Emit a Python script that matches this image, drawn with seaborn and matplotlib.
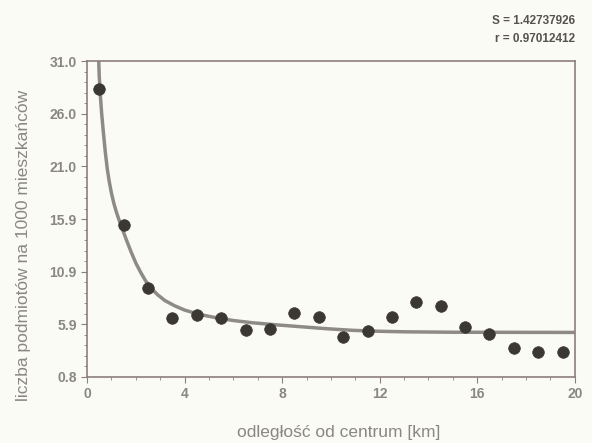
import numpy as np
import pandas as pd
import matplotlib
matplotlib.use('Agg')
import matplotlib.pyplot as plt
import seaborn as sns

# measured points (distance from centre [km], entities per 1000 inhabitants)
distance = [0.5, 1.5, 2.5, 3.5, 4.5, 5.5, 6.5, 7.5, 8.5, 9.5,
            10.5, 11.5, 12.5, 13.5, 14.5, 15.5, 16.5, 17.5, 18.5, 19.5]
entities = [28.3, 15.3, 9.3, 6.4, 6.7, 6.4, 5.3, 5.4, 6.9, 6.5,
            4.6, 5.2, 6.5, 8.0, 7.6, 5.6, 4.9, 3.6, 3.2, 3.2]

# fitted curve
curve_x = [0.48, 0.5, 0.55, 0.6, 0.67, 0.75, 0.83, 0.91, 1.0, 1.1, 1.2, 1.3,
           1.44, 1.6, 1.8, 2.0, 2.2, 2.4, 2.6, 2.9, 3.2, 3.6, 4.0, 4.5, 5.0,
           5.5, 6.0, 6.8, 7.8, 8.8, 9.8, 10.9, 12.0, 13.0, 15.0, 17.5, 20.0]
curve_y = [31.0, 29.6, 27.6, 26.0, 24.2, 22.3, 20.7, 19.5, 18.4, 17.4, 16.6, 15.9,
           15.0, 14.0, 12.8, 11.7, 10.8, 10.0, 9.35, 8.65, 8.1, 7.6, 7.2, 6.85, 6.6,
           6.38, 6.2, 5.98, 5.78, 5.6, 5.42, 5.26, 5.17, 5.12, 5.08, 5.07, 5.06]

x_ticks = [0, 4, 8, 12, 16, 20]
y_tick_labels = ['0.8', '5.9', '10.9', '15.9', '21.0', '26.0', '31.0']

fit_stats = ['S = 1.42737926', 'r = 0.97012412']

sns.set_style('ticks')
plt.rcParams['font.family'] = ['Liberation Sans', 'DejaVu Sans']

bg = '#fbfbf6'
frame = '#8c7f7d'
text_col = '#8a8684'

pts = pd.DataFrame({'x': distance, 'y': entities})
fit = pd.DataFrame({'x': curve_x, 'y': curve_y})

fig = plt.figure(figsize=(5.92, 4.43), dpi=100, facecolor=bg)
ax = fig.add_axes([0.147, 0.149, 0.824, 0.713], facecolor=bg)

sns.lineplot(data=fit, x='x', y='y', ax=ax, color='#8e8a88', linewidth=2.5,
             sort=True, estimator=None)
sns.scatterplot(data=pts, x='x', y='y', ax=ax, color='#3b3733', s=70,
                edgecolor='#3b3733', linewidth=0.5, zorder=3)

ax.set_xlim(0, 20)
ax.set_ylim(0.8, 31.0)
ax.set_xticks(x_ticks)
ax.set_xticks(np.arange(0, 21, 1), minor=True)
y_pos = [float(v) for v in y_tick_labels]
y_pos = np.linspace(y_pos[0], y_pos[-1], len(y_pos))
ax.set_yticks(y_pos)
ax.set_yticklabels(y_tick_labels)
ax.set_yticks(np.linspace(0.8, 31.0, 31), minor=True)

for s in ax.spines.values():
    s.set_color(frame)
    s.set_linewidth(1.2)
ax.tick_params(which='both', colors=frame, labelcolor=text_col, labelsize=10,
               direction='out')
ax.tick_params(which='major', length=4)
ax.tick_params(which='minor', length=2)
for lab in ax.get_xticklabels() + ax.get_yticklabels():
    lab.set_fontweight('bold')

ax.set_xlabel('odległość od centrum [km]', color=text_col, fontsize=12.5,
              labelpad=17)
ax.xaxis.label.set_x(0.515)
ax.set_ylabel('liczba podmiotów na 1000 mieszkańców', color=text_col,
              fontsize=12.5, labelpad=13)
ax.yaxis.label.set_y(0.418)

fig.text(0.972, 0.952, fit_stats[0], ha='right', va='center', fontsize=8.5,
         color='#55524f', fontweight='bold')
fig.text(0.972, 0.913, fit_stats[1], ha='right', va='center', fontsize=8.5,
         color='#55524f', fontweight='bold')

fig.savefig('out.png', dpi=100, facecolor=bg)
